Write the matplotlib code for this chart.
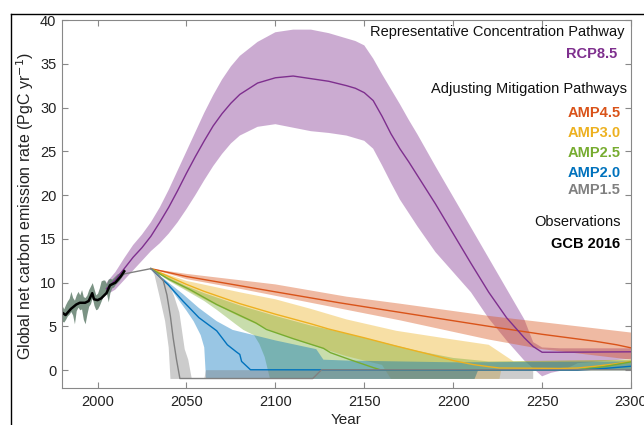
import numpy as np
import matplotlib
matplotlib.use('Agg')
import matplotlib.pyplot as plt
from matplotlib.lines import Line2D

plt.rcParams['font.family'] = ['Liberation Sans', 'DejaVu Sans']

# Observaciones GCB 2016
obs_years = list(range(1980, 2016))
obs_hi = [7.4, 7.0, 7.5, 7.9, 8.2, 9.0, 8.3, 8.0, 8.6, 9.0, 8.6, 9.2, 8.4, 8.3, 8.6, 9.2, 9.6, 10.0,
          9.3, 8.6, 8.8, 9.4, 10.2, 10.3, 10.3, 9.9, 10.4, 10.5, 10.4, 10.6, 10.8, 11.0, 11.1, 11.3, 11.5, 11.6]
obs_lo = [5.6, 5.5, 5.8, 6.2, 6.4, 6.7, 6.3, 5.3, 6.8, 7.2, 6.9, 7.0, 5.8, 5.3, 6.4, 7.3, 7.6, 8.3,
          7.4, 6.9, 7.0, 7.4, 7.9, 8.4, 8.6, 8.8, 7.8, 8.9, 9.4, 9.5, 9.8, 10.0, 10.2, 10.5, 10.8, 11.0]
obs_line_yr = [1980, 1982, 1985, 1988, 1990, 1993, 1995, 1997, 1998, 2000, 2002, 2004, 2005, 2007, 2010, 2013, 2015]
obs_line = [6.6, 6.3, 7.0, 7.5, 7.7, 7.7, 7.9, 8.8, 8.1, 8.0, 8.2, 8.6, 8.8, 9.7, 10.0, 10.7, 11.3]

# Tramo historico del modelo
hist_yr = [2015, 2030]
hist_val = [11.0, 11.6]

# RCP8.5
rcp_yr = [2005, 2010, 2015, 2020, 2025, 2030, 2035, 2040, 2045, 2050, 2055, 2060, 2065, 2070, 2075, 2080,
          2090, 2100, 2110, 2120, 2130, 2140, 2145, 2150, 2155, 2160, 2165, 2170, 2175, 2180, 2190, 2200,
          2210, 2220, 2230, 2240, 2245, 2250, 2260, 2300]
rcp_mid = [9.3, 10.3, 11.6, 12.9, 14.0, 15.3, 16.9, 18.6, 20.5, 22.5, 24.4, 26.2, 27.9, 29.3, 30.5, 31.5,
           32.8, 33.4, 33.6, 33.3, 33.0, 32.5, 32.2, 31.7, 30.8, 29.0, 27.0, 25.3, 23.8, 22.2, 19.0, 15.6,
           12.2, 8.9, 6.0, 3.7, 2.7, 2.05, 2.05, 2.1]
rcp_hi = [10.0, 11.2, 12.8, 14.3, 15.5, 16.9, 18.6, 20.6, 22.8, 25.0, 27.2, 29.4, 31.4, 33.2, 34.7, 35.9,
          37.5, 38.6, 38.9, 38.9, 38.5, 37.9, 37.6, 37.1, 35.6, 33.8, 32.1, 30.4, 28.6, 26.9, 23.3, 19.8,
          16.3, 12.8, 9.3, 5.8, 3.2, 2.6, 2.5, 2.5]
rcp_lo_yr = [2005, 2010, 2015, 2020, 2025, 2030, 2035, 2040, 2045, 2050, 2055, 2060, 2065, 2070, 2075, 2080,
             2090, 2100, 2110, 2120, 2130, 2140, 2145, 2150, 2155, 2160, 2165, 2170, 2180, 2190, 2200,
             2210, 2220, 2230, 2240, 2245, 2250, 2255, 2262, 2270, 2300]
rcp_lo = [8.6, 9.2, 10.3, 11.4, 12.5, 13.6, 14.5, 15.6, 16.9, 18.4, 20.0, 21.7, 23.3, 24.7, 25.9, 26.8,
          27.8, 28.1, 27.7, 27.3, 27.1, 26.8, 26.5, 26.2, 25.3, 23.4, 21.4, 19.5, 16.4, 13.5, 11.2,
          8.9, 5.9, 3.4, 1.1, 0.2, -0.7, -0.3, 0.0, 0.8, 1.3]

# AMP4.5
amp45_yr = [2030, 2050, 2100, 2136, 2150, 2200, 2222, 2250, 2280, 2292, 2300]
amp45_mid = [11.6, 10.7, 8.95, 7.7, 7.25, 5.65, 4.95, 4.1, 3.3, 2.9, 2.55]
amp45_hi_yr = [2030, 2050, 2100, 2140, 2170, 2220, 2300]
amp45_hi = [11.6, 11.0, 9.8, 8.4, 7.6, 6.2, 4.3]
amp45_lo_yr = [2030, 2050, 2080, 2100, 2140, 2170, 2220, 2250, 2300]
amp45_lo = [11.6, 10.4, 9.3, 8.5, 6.9, 5.7, 3.5, 2.4, 1.2]

# AMP3.0
amp30_yr = [2030, 2040, 2050, 2060, 2080, 2100, 2120, 2130, 2150, 2168, 2187, 2200, 2211, 2220,
            2226, 2260, 2270, 2280, 2290, 2300]
amp30_mid = [11.6, 10.7, 9.8, 9.0, 7.6, 6.4, 5.3, 4.7, 3.7, 2.75, 1.8, 1.1, 0.65, 0.4,
             0.25, 0.2, 0.25, 0.45, 0.7, 1.0]
amp30_hi_yr = [2030, 2050, 2080, 2100, 2120, 2140, 2168, 2200, 2220, 2234, 2300]
amp30_hi = [11.6, 10.2, 8.9, 8.1, 7.0, 5.8, 4.5, 3.5, 2.9, 1.0, 1.2]
amp30_lo_yr = [2030, 2040, 2050, 2060, 2070, 2080, 2090, 2100, 2120, 2140, 2160, 2165, 2226, 2227, 2300]
amp30_lo = [11.6, 10.3, 9.2, 8.1, 7.1, 6.1, 5.2, 4.3, 2.9, 1.6, 0.6, -1.0, -1.0, 0.0, 0.0]

# AMP2.5
amp25_yr = [2030, 2040, 2052, 2067, 2089, 2095, 2110, 2127, 2131, 2142, 2155, 2159, 2270, 2285, 2300]
amp25_mid = [11.6, 10.4, 9.2, 7.5, 5.4, 4.65, 3.6, 2.5, 2.0, 1.2, 0.3, 0.05, 0.05, 0.4, 0.95]
amp25_hi_yr = [2030, 2040, 2050, 2060, 2080, 2100, 2120, 2140, 2160, 2180, 2200, 2220, 2300]
amp25_hi = [11.6, 10.6, 9.6, 8.8, 7.4, 6.2, 5.1, 4.2, 3.2, 2.2, 1.4, 1.0, 1.2]
amp25_lo_yr = [2030, 2040, 2048, 2060, 2067, 2078, 2082, 2088, 2091, 2094, 2097, 2212, 2214, 2300]
amp25_lo = [11.6, 10.2, 9.3, 7.9, 6.9, 5.2, 4.6, 4.0, 3.0, 1.5, -1.0, -1.0, 0.0, 0.0]

# AMP2.0
amp20_yr = [2030, 2040, 2048, 2057, 2067, 2073, 2078, 2080, 2081, 2086, 2270, 2285, 2300]
amp20_mid = [11.6, 9.7, 7.9, 6.0, 4.5, 2.9, 2.1, 1.8, 1.0, 0.05, 0.0, 0.2, 0.45]
amp20_hi_yr = [2030, 2040, 2048, 2057, 2067, 2076, 2080, 2100, 2123, 2127, 2140, 2200, 2300]
amp20_hi = [11.6, 10.0, 8.7, 7.1, 5.6, 4.6, 4.4, 3.4, 2.4, 1.2, 1.1, 0.9, 1.0]
amp20_lo_yr = [2030, 2035, 2040, 2045, 2050, 2054, 2058, 2060, 2061, 2212, 2214, 2300]
amp20_lo = [11.6, 10.9, 9.6, 8.2, 6.8, 5.6, 4.0, 2.6, -1.0, -1.0, 0.0, 0.0]

# AMP1.5
amp15_yr = [2030, 2034, 2037, 2039, 2041, 2042.5, 2044.4, 2046.3, 2121, 2126, 2300]
amp15_mid = [11.6, 10.9, 10.2, 8.6, 6.1, 3.7, 1.2, -0.95, -0.95, 0.05, 0.05]
amp15_hi_yr = [2030, 2035, 2040, 2043, 2046, 2049, 2051, 2053, 2060, 2061, 2245]
amp15_hi = [11.6, 10.8, 9.9, 8.5, 6.6, 2.4, 1.2, -1.0, -1.0, 0.0, 0.0]
amp15_lo_yr = [2030, 2032, 2035, 2038, 2040, 2041, 2245]
amp15_lo = [11.6, 10.9, 8.3, 5.6, 2.6, -1.0, -1.0]

c_rcp = '#7E2F8E'
c45 = '#D95319'
c30 = '#EDB120'
c25 = '#77AC30'
c20 = '#0072BD'
c15 = '#808080'


def banda(ax, x_hi, y_hi, x_lo, y_lo, color, alpha=0.4):
    xs = np.r_[x_hi, np.array(x_lo)[::-1]]
    ys = np.r_[y_hi, np.array(y_lo)[::-1]]
    ax.fill(xs, ys, color=color, alpha=alpha, lw=0)


fig = plt.figure(figsize=(6.44, 4.25), dpi=100)
ax = fig.add_axes([62 / 644, 37.3 / 425, 569 / 644, 367.7 / 425])

# bandas
banda(ax, rcp_yr, rcp_hi, rcp_lo_yr, rcp_lo, c_rcp)
banda(ax, amp45_hi_yr, amp45_hi, amp45_lo_yr, amp45_lo, c45)
banda(ax, amp30_hi_yr, amp30_hi, amp30_lo_yr, amp30_lo, c30)
banda(ax, amp25_hi_yr, amp25_hi, amp25_lo_yr, amp25_lo, c25)
banda(ax, amp20_hi_yr, amp20_hi, amp20_lo_yr, amp20_lo, c20)
banda(ax, amp15_hi_yr, amp15_hi, amp15_lo_yr, amp15_lo, c15)
ax.fill_between(obs_years, obs_lo, obs_hi, color='#64806f', alpha=0.85, lw=0)

# lineas
ax.plot(amp45_yr, amp45_mid, color=c45, lw=1.0)
ax.plot(amp30_yr, amp30_mid, color=c30, lw=1.0)
ax.plot(amp25_yr, amp25_mid, color=c25, lw=1.0)
ax.plot(amp20_yr, amp20_mid, color=c20, lw=1.0)
ax.plot(hist_yr, hist_val, color=c15, lw=1.0)
ax.plot(amp15_yr, amp15_mid, color=c15, lw=1.0)
ax.plot(rcp_yr, rcp_mid, color=c_rcp, lw=1.0)
ax.plot(obs_line_yr, obs_line, color='black', lw=1.8)

ax.set_xlim(1980, 2300)
ax.set_ylim(-2, 40)
ax.set_xticks(range(2000, 2301, 50))
ax.set_yticks(range(0, 41, 5))
ax.tick_params(direction='in', length=4, width=0.8, color='#888888', top=True, right=True,
               labelsize=10.5, labelcolor='#222222')
ax.tick_params(axis='x', pad=5)
ax.tick_params(axis='y', pad=4)
for s in ax.spines.values():
    s.set_color('#888888')
    s.set_linewidth(0.8)

fig.text(25 / 644, 1 - 206 / 425, 'Global net carbon emission rate (PgC yr$^{-1}$)',
         rotation=90, ha='center', va='center', fontsize=11.5, color='#222222')
fig.text(346.5 / 644, 1 - 420 / 425, 'Year', ha='center', va='center', fontsize=11, color='#222222')

# leyenda de texto
def etiqueta(px, py, txt, color='#111111', bold=False):
    ax.text((px - 62) / 569, (387.7 - py) / 367.7, txt, transform=ax.transAxes, ha='right',
            va='center', fontsize=10.5, color=color, fontweight='bold' if bold else 'normal')

etiqueta(625, 32.3, 'Representative Concentration Pathway')
etiqueta(617, 54.3, 'RCP8.5', c_rcp, True)
etiqueta(627, 89.3, 'Adjusting Mitigation Pathways')
etiqueta(621, 113.3, 'AMP4.5', c45, True)
etiqueta(621, 133.3, 'AMP3.0', c30, True)
etiqueta(621, 153.3, 'AMP2.5', c25, True)
etiqueta(621, 172.7, 'AMP2.0', c20, True)
etiqueta(621, 190, 'AMP1.5', c15, True)
etiqueta(621, 221.7, 'Observations')
etiqueta(620, 244.3, 'GCB 2016', 'black', True)

# marco exterior
fig.add_artist(Line2D([11 / 644, 11 / 644], [0, 1 - 14 / 425], color='black', lw=1.0))
fig.add_artist(Line2D([11 / 644, 1], [1 - 14 / 425, 1 - 14 / 425], color='black', lw=1.0))

fig.savefig('out.png', dpi=100)
